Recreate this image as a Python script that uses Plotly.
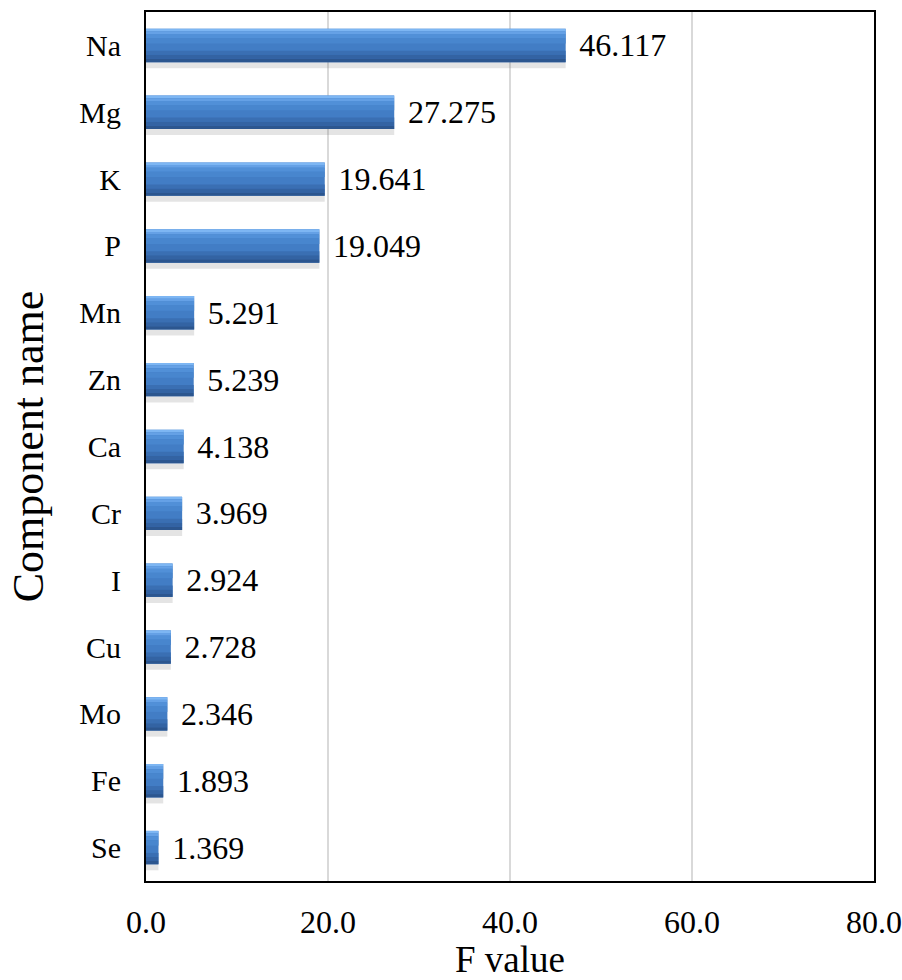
import plotly.graph_objects as go

components = ["Na", "Mg", "K", "P", "Mn", "Zn", "Ca", "Cr", "I", "Cu", "Mo", "Fe", "Se"]
f_values = [46.117, 27.275, 19.641, 19.049, 5.291, 5.239, 4.138, 3.969, 2.924, 2.728, 2.346, 1.893, 1.369]
x_ticks = [0, 20, 40, 60, 80]
x_tick_labels = ["0.0", "20.0", "40.0", "60.0", "80.0"]

FONT = "Liberation Serif, Times New Roman, serif"
labels = ["\u2004" + f"{v:.3f}" for v in f_values]

fig = go.Figure()
# shadow
fig.add_trace(go.Bar(y=components, x=f_values, orientation="h", width=0.56, offset=-0.22,
                     marker=dict(color="rgba(120,120,120,0.20)", line=dict(width=0)),
                     hoverinfo="skip", showlegend=False))
# main bar
fig.add_trace(go.Bar(y=components, x=f_values, orientation="h", width=0.5, offset=-0.25,
                     marker=dict(color="#427dc5", line=dict(width=0)),
                     text=labels, textposition="outside", cliponaxis=False,
                     constraintext="none",
                     textfont=dict(family=FONT, size=32, color="black"),
                     showlegend=False))
# gradient bands (top highlight -> bottom shade)
bands = [(-0.25, 0.04, "#7db6f3"), (-0.21, 0.04, "#65a1e6"), (-0.17, 0.06, "#5190d8"),
         (-0.11, 0.08, "#4886ce"), (0.08, 0.06, "#3a6fb3"), (0.14, 0.06, "#3363a3"),
         (0.20, 0.05, "#2c568f")]
for off, w, col in bands:
    fig.add_trace(go.Bar(y=components, x=f_values, orientation="h", width=w, offset=off,
                         marker=dict(color=col, line=dict(width=0)),
                         hoverinfo="skip", showlegend=False))

fig.update_layout(
    width=902, height=980,
    margin=dict(l=146, r=28, t=12, b=99, autoexpand=False),
    barmode="overlay",
    plot_bgcolor="white", paper_bgcolor="white",
    font=dict(family=FONT, color="black"),
)
fig.update_xaxes(
    range=[0, 80], tickvals=x_ticks, ticktext=x_tick_labels,
    showgrid=True, gridcolor="#d9d9d9", gridwidth=2,
    showline=True, linecolor="black", linewidth=2, mirror=True,
    ticks="", tickfont=dict(family=FONT, size=32), ticklabelstandoff=12,
    title=dict(text="F value", font=dict(family=FONT, size=37), standoff=6),
    zeroline=False, automargin=False,
)
fig.update_yaxes(
    categoryorder="array", categoryarray=components, autorange="reversed",
    showline=True, linecolor="black", linewidth=2, mirror=True,
    ticks="", tickfont=dict(family=FONT, size=30), ticklabelstandoff=17,
    title=dict(text="Component name", font=dict(family=FONT, size=44), standoff=22),
    showgrid=False, automargin=False,
)

fig.write_html("out.html")
